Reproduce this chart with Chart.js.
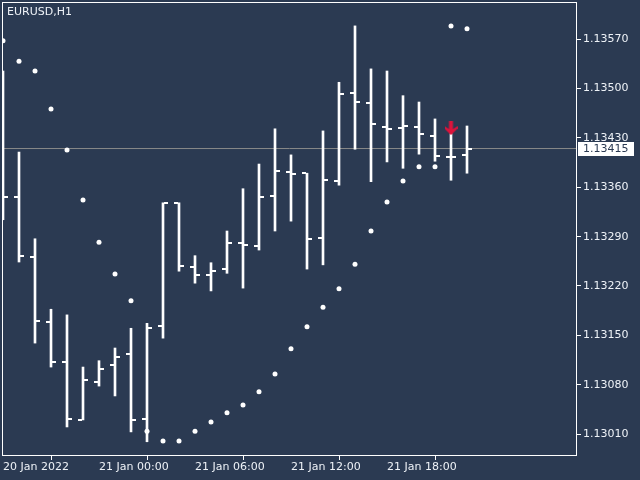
<!DOCTYPE html>
<html>
<head>
<meta charset="utf-8">
<script src="https://cdn.jsdelivr.net/npm/chart.js@4/dist/chart.umd.min.js"></script>
<style>
  html, body { margin: 0; padding: 0; background: #2b3a52; }
  canvas { display: block; }
</style>
</head>
<body>
<canvas id="chart" width="640" height="480"></canvas>
<script>
var symbol = 'EURUSD,H1';

// hourly bars, 20 Jan 18:00 .. 21 Jan 23:00
var opens  = [1.13480, 1.13346, 1.13261, 1.13169, 1.13112, 1.13030, 1.13084, 1.13108, 1.13123, 1.13031,
              1.13163, 1.13338, 1.13247, 1.13236, 1.13244, 1.13281, 1.13277, 1.13348, 1.13382, 1.13380,
              1.13288, 1.13369, 1.13494, 1.13480, 1.13446, 1.13444, 1.13446, 1.13433, 1.13403, 1.13406];
var highs  = [1.13525, 1.13410, 1.13287, 1.13187, 1.13179, 1.13105, 1.13114, 1.13132, 1.13160, 1.13167,
              1.13338, 1.13338, 1.13263, 1.13253, 1.13298, 1.13358, 1.13393, 1.13443, 1.13406, 1.13380,
              1.13440, 1.13509, 1.13589, 1.13528, 1.13525, 1.13490, 1.13481, 1.13457, 1.13436, 1.13447];
var lows   = [1.13314, 1.13254, 1.13139, 1.13105, 1.13020, 1.13030, 1.13078, 1.13064, 1.13013, 1.12999,
              1.13146, 1.13241, 1.13224, 1.13213, 1.13238, 1.13217, 1.13271, 1.13298, 1.13312, 1.13244,
              1.13250, 1.13363, 1.13414, 1.13368, 1.13396, 1.13387, 1.13407, 1.13397, 1.13370, 1.13380];
var closes = [1.13346, 1.13263, 1.13170, 1.13112, 1.13031, 1.13087, 1.13102, 1.13119, 1.13030, 1.13160,
              1.13338, 1.13248, 1.13236, 1.13241, 1.13281, 1.13278, 1.13346, 1.13383, 1.13379, 1.13287,
              1.13370, 1.13492, 1.13481, 1.13450, 1.13443, 1.13447, 1.13436, 1.13404, 1.13403, 1.13415];
var sar    = [1.13568, 1.13539, 1.13525, 1.13471, 1.13413, 1.13342, 1.13282, 1.13237, 1.13199, 1.13014,
              1.13000, 1.13000, 1.13014, 1.13027, 1.13040, 1.13051, 1.13070, 1.13095, 1.13131, 1.13162,
              1.13190, 1.13216, 1.13251, 1.13298, 1.13339, 1.13369, 1.13389, 1.13389, 1.13589, 1.13585];

var lastPrice = 1.13415;
var signalBar = 28;
var signalPrice = 1.13444;

var yTicks = [1.13010, 1.13080, 1.13150, 1.13220, 1.13290, 1.13360, 1.13430, 1.13500, 1.13570];
var xTickIdx = [0, 6, 12, 18, 24];
var xTickLabels = ['20 Jan 2022', '21 Jan 00:00', '21 Jan 06:00', '21 Jan 12:00', '21 Jan 18:00'];

var bg = '#2b3a52';
var fg = '#eef2f7';
var font = {family: 'DejaVu Sans', size: 11};

// little sprites for open / close ticks and the sell arrow
function sprite(w, h, draw) {
  var c = document.createElement('canvas');
  c.width = w; c.height = h;
  draw(c.getContext('2d'));
  return c;
}
var openTick = sprite(10, 2, function (g) { g.fillStyle = '#fff'; g.fillRect(0, 0, 4, 2); });
var closeTick = sprite(10, 2, function (g) { g.fillStyle = '#fff'; g.fillRect(6, 0, 4, 2); });
var sellArrow = sprite(13, 14, function (g) {
  g.fillStyle = '#dc143c';
  g.beginPath();
  g.moveTo(4.5, 0); g.lineTo(8.5, 0); g.lineTo(8.5, 8); g.lineTo(13, 5);
  g.lineTo(13, 7.5); g.lineTo(6.5, 14); g.lineTo(0, 7.5); g.lineTo(0, 5);
  g.lineTo(4.5, 8);
  g.closePath(); g.fill();
});

var idx = opens.map((v, i) => i);
var xMin = -0.0625, xMax = 35.875;

var frame = {
  id: 'frame',
  beforeDraw(chart) {
    var ctx = chart.ctx;
    ctx.save();
    ctx.fillStyle = bg;
    ctx.fillRect(0, 0, chart.width, chart.height);
    ctx.restore();
  },
  afterDraw(chart) {
    var ctx = chart.ctx, a = chart.chartArea, y = chart.scales.y;
    ctx.save();
    ctx.strokeStyle = '#ffffff';
    ctx.lineWidth = 1;
    ctx.strokeRect(a.left + 0.5, a.top + 0.5, a.right - a.left - 1, a.bottom - a.top - 1);
    // last price tag
    var py = Math.round(y.getPixelForValue(lastPrice));
    ctx.fillStyle = '#ffffff';
    ctx.fillRect(a.right + 1, py - 7, 56, 14);
    ctx.fillStyle = bg;
    ctx.font = '11px "DejaVu Sans"';
    ctx.textBaseline = 'middle';
    ctx.fillText(lastPrice.toFixed(5), a.right + 6, py + 0.5);
    // symbol caption
    ctx.fillStyle = fg;
    ctx.fillText(symbol, 7, 12.5);
    ctx.restore();
  }
};

new Chart(document.getElementById('chart'), {
  type: 'bar',
  data: {
    datasets: [
      {
        type: 'line', order: 10,
        data: [{x: xMin, y: lastPrice}, {x: xMax, y: lastPrice}],
        borderColor: '#8a8a8a', borderWidth: 1, pointRadius: 0
      },
      {
        type: 'bar', order: 5,
        data: idx.map(i => ({x: i, y: [lows[i], highs[i]]})),
        backgroundColor: '#ffffff', borderWidth: 0, barThickness: 2
      },
      {
        type: 'scatter', order: 4,
        data: idx.map(i => ({x: i, y: opens[i]})),
        pointStyle: openTick, pointRadius: 3
      },
      {
        type: 'scatter', order: 4,
        data: idx.map(i => ({x: i, y: closes[i]})),
        pointStyle: closeTick, pointRadius: 3
      },
      {
        type: 'scatter', order: 3,
        data: idx.map(i => ({x: i, y: sar[i]})),
        backgroundColor: '#ffffff', borderWidth: 0, pointRadius: 2.5
      },
      {
        type: 'scatter', order: 2,
        data: [{x: signalBar, y: signalPrice}],
        pointStyle: sellArrow, pointRadius: 3
      }
    ]
  },
  options: {
    responsive: false,
    devicePixelRatio: 1,
    animation: false,
    events: [],
    layout: {autoPadding: false, padding: {left: 2, top: 2, right: 0, bottom: 0}},
    plugins: {legend: {display: false}, tooltip: {enabled: false}},
    scales: {
      x: {
        type: 'linear', min: xMin, max: xMax, offset: false,
        grid: {drawOnChartArea: false, color: '#ffffff', tickLength: 4},
        border: {display: false},
        afterBuildTicks: s => { s.ticks = xTickIdx.map(v => ({value: v})); },
        afterFit: s => { s.height = 24; s.paddingLeft = 0; s.paddingRight = 0; },
        ticks: {
          autoSkip: false, maxRotation: 0, align: 'start', padding: 1,
          color: fg, font: font,
          callback: v => xTickLabels[xTickIdx.indexOf(v)]
        }
      },
      y: {
        type: 'linear', position: 'right', min: 1.129788, max: 1.136229,
        grid: {drawOnChartArea: false, color: '#ffffff', tickLength: 4},
        border: {display: false},
        afterBuildTicks: s => { s.ticks = yTicks.map(v => ({value: v})); },
        afterFit: s => { s.width = 63; s.paddingTop = 0; s.paddingBottom = 0; },
        ticks: {
          padding: 2, color: fg, font: font,
          callback: v => v.toFixed(5)
        }
      }
    }
  },
  plugins: [frame]
});
</script>
</body>
</html>
